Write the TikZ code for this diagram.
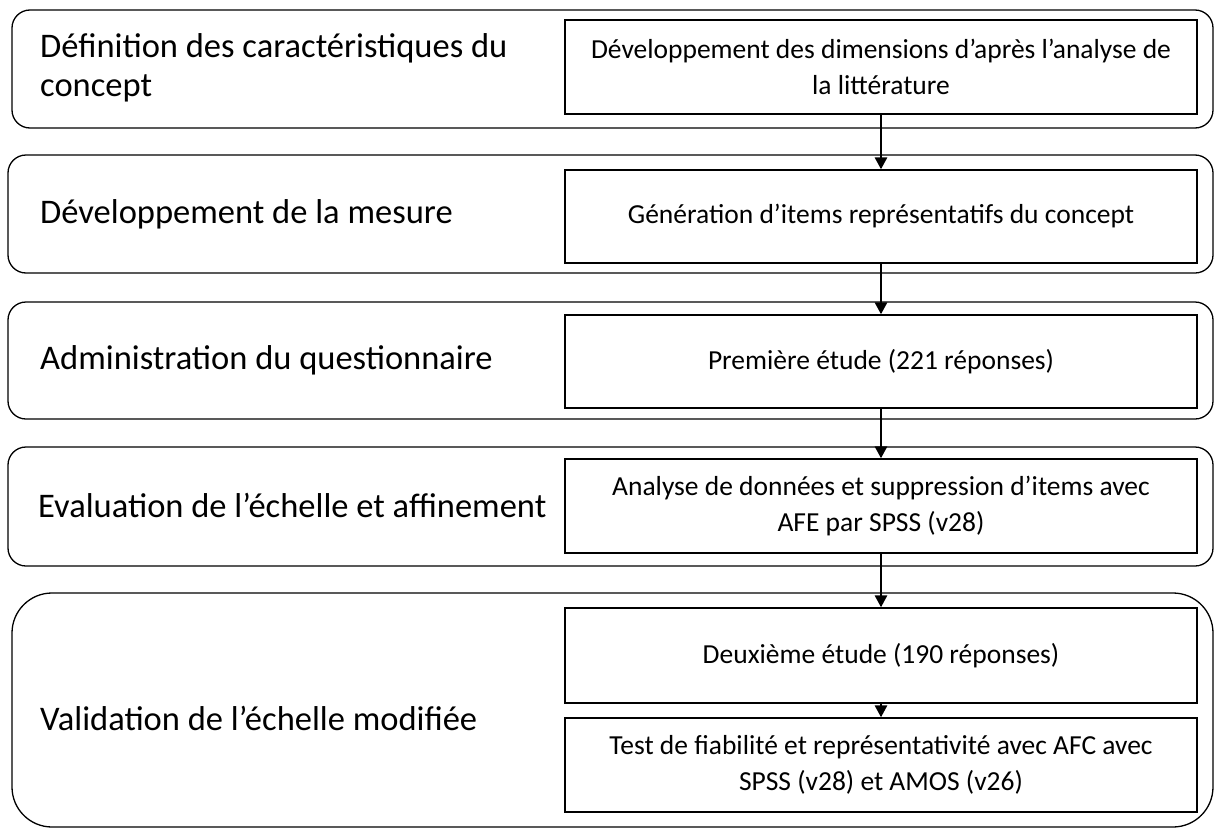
\documentclass[tikz,border=0pt]{standalone}
\usepackage{fontspec}
\setmainfont{Carlito}
\usetikzlibrary{arrows.meta}

\begin{document}
\begin{tikzpicture}[
        x=1pt, y=-1pt,
        band/.style={draw, line width=1.3pt, rounded corners=18pt,
            minimum width=1201pt, minimum height=118pt, inner sep=0pt},
        stepbox/.style={draw, line width=1.3pt, minimum width=632pt,
            minimum height=94pt, align=center, inner sep=0pt,
            font=\fontsize{27.5}{36}\selectfont},
        phase/.style={anchor=west, align=left, inner sep=0pt,
            font=\fontsize{34.5}{39}\selectfont},
        flow/.style={line width=2.8pt,
            -{Triangle[width=12pt,length=12pt]}}
    ]
    \useasboundingbox (0,0) rectangle (1216,830);

    % bands
    \node[band, name=band1] at (612.5,69) {};
    \node[band, minimum width=1205pt, name=band2] at (610.5,214) {};
    \node[band, minimum width=1205pt, minimum height=117pt, name=band3] at (610.5,360.5) {};
    \node[band, minimum width=1205pt, minimum height=119pt, name=band4] at (610.5,506.5) {};
    \node[band, minimum height=234pt, rounded corners=40pt, name=band5] at (612.5,710) {};

    % phases
    \node[phase, name=p1] at (40,68) {D\'efinition des caract\'eristiques du\\concept};
    \node[phase, name=p2] at (40,214) {D\'eveloppement de la mesure};
    \node[phase, name=p3] at (40,360) {Administration du questionnaire};
    \node[phase, name=p4] at (38,505) {Evaluation de l’\'echelle et affinement};
    \node[phase, name=p5] at (40,718) {Validation de l’\'echelle modifi\'ee};

    % steps
    \node[stepbox, name=d1] at (881,67) {D\'eveloppement des dimensions d’apr\`es l’analyse de\\la litt\'erature};
    \node[stepbox, minimum height=93pt, name=d2] at (881,216.5) {G\'en\'eration d’items repr\'esentatifs du concept};
    \node[stepbox, minimum height=93pt, name=d3] at (881,361.5) {Premi\`ere \'etude (221 r\'eponses)};
    \node[stepbox, name=d4] at (881,506) {Analyse de donn\'ees et suppression d’items avec\\AFE par SPSS (v28)};
    \node[stepbox, minimum height=95pt, name=d5] at (881,655.5) {Deuxi\`eme \'etude (190 r\'eponses)};
    \node[stepbox, name=d6] at (881,765) {Test de fiabilit\'e et repr\'esentativit\'e avec AFC avec\\SPSS (v28) et AMOS (v26)};

    \draw[flow] (d1) -- (d2);
    \draw[flow] (d2) -- (d3);
    \draw[flow] (d3) -- (d4);
    \draw[flow] (d4) -- (d5);
    \draw[flow] (d5) -- (d6);
\end{tikzpicture}
\end{document}
